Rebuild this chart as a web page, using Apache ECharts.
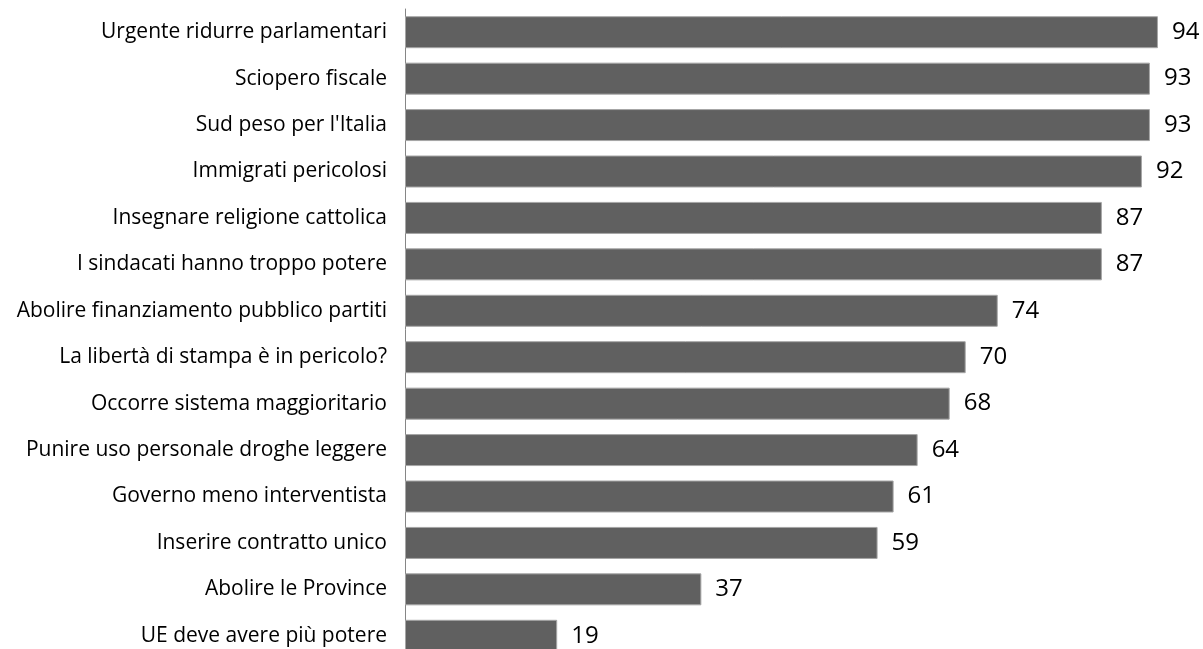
<!DOCTYPE html>
<html>
<head>
<meta charset="utf-8">
<script src="https://cdn.jsdelivr.net/npm/echarts@6/dist/echarts.min.js"></script>
<style>
  html, body { margin: 0; padding: 0; background: #fff; }
  #chart { width: 1203px; height: 649px; }
</style>
</head>
<body>
<div id="chart"></div>
<script>
// categories listed top to bottom
let categories = [
  "Urgente ridurre parlamentari",
  "Sciopero fiscale",
  "Sud peso per l'Italia",
  "Immigrati pericolosi",
  "Insegnare religione cattolica",
  "I sindacati hanno troppo potere",
  "Abolire finanziamento pubblico partiti",
  "La libertà di stampa è in pericolo?",
  "Occorre sistema maggioritario",
  "Punire uso personale droghe leggere",
  "Governo meno interventista",
  "Inserire contratto unico",
  "Abolire le Province",
  "UE deve avere più potere"
];
let values = [94, 93, 93, 92, 87, 87, 74, 70, 68, 64, 61, 59, 37, 19];

let chart = echarts.init(document.getElementById("chart"));

let option = {
  animation: false,
  grid: { left: 405, top: 9, width: 801, height: 650, outerBoundsMode: 'none' },
  xAxis: {
    type: 'value',
    min: 0,
    max: 100,
    show: false
  },
  yAxis: {
    type: 'category',
    inverse: true,
    data: categories,
    axisLine: { show: true, lineStyle: { color: '#868686', width: 1 } },
    axisTick: { show: false },
    axisLabel: {
      margin: 18,
      color: '#000',
      fontFamily: 'Open Sans',
      fontSize: 21
    }
  },
  series: [{
    type: 'bar',
    data: values,
    barWidth: 32,
    itemStyle: { color: '#606060', borderColor: '#a6a6a6', borderWidth: 1 },
    label: {
      show: true,
      position: 'right',
      distance: 14,
      color: '#000',
      fontFamily: 'Open Sans',
      fontSize: 24
    }
  }]
};

chart.setOption(option);
</script>
</body>
</html>
